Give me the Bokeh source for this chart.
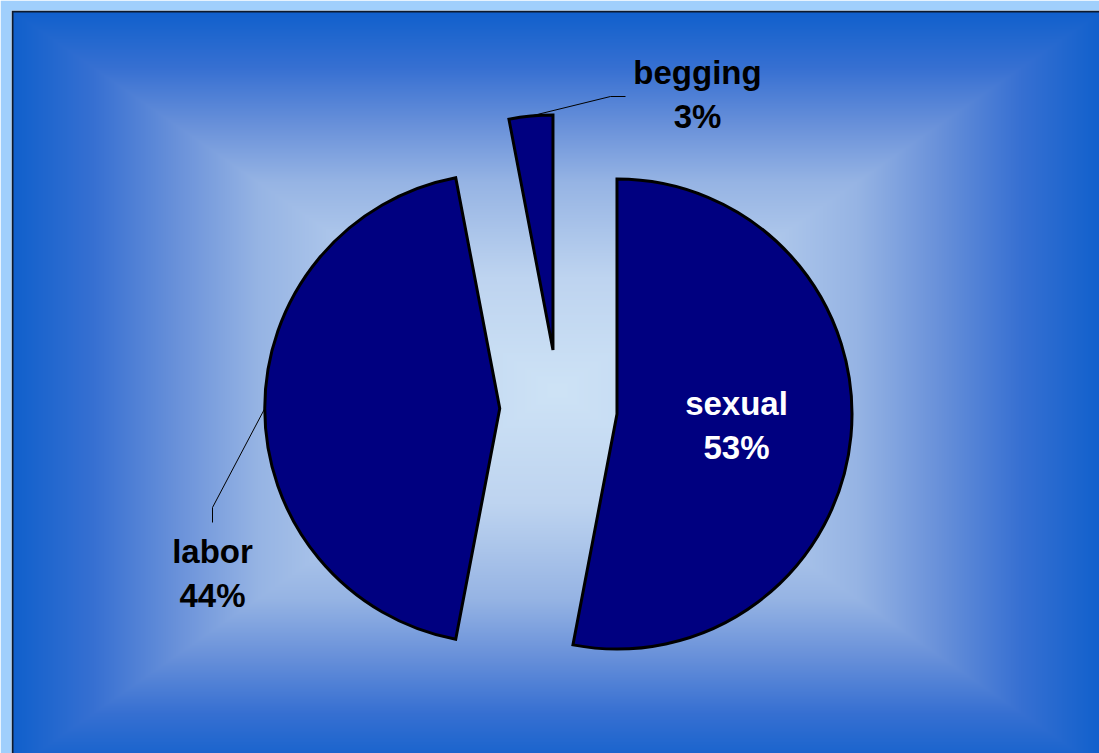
import numpy as np
from bokeh.plotting import figure
from bokeh.models import Range1d, ColumnDataSource
from bokeh.core.properties import value
from bokeh.embed import file_html
from bokeh.resources import INLINE

# ---- data ----
categories = ["sexual", "labor", "begging"]
shares = [53, 44, 3]
label_colors = ["white", "black", "black"]

# ---- layout (screen pixels) ----
W, H = 1099, 753
FL, FT = 11, 10
FW, FH = W - FL, H - FT
OX, OY = FL, FT


def dx(sx):
    return sx - OX


def dy(sy):
    return OY + FH - sy


PIE_SX, PIE_SY = 558, 408
RADIUS = 235
EXPLODE = 0.25 * RADIUS
# label block: (center x, baseline line1, baseline line2)
label_pos = {"sexual": (736, 403, 447), "labor": (212, 551, 595), "begging": (697, 72, 116)}
leader_pts = {"labor": [(212, 507), (212, 522)], "begging": [(610, 96), (625, 96)]}

# ---- background gradient (rectangular, from center) ----
gx0, gx1, gy0, gy1 = 11, 1103, 10, 770
gcx, gcy = (gx0 + gx1) / 2, (gy0 + gy1) / 2
hw, hh = (gx1 - gx0) / 2, (gy1 - gy0) / 2
xs = OX + np.arange(FW) + 0.5
ys = OY + np.arange(FH) + 0.5
X, Y = np.meshgrid(xs, ys)
t = np.clip(np.maximum(np.abs(X - gcx) / hw, np.abs(Y - gcy) / hh), 0, 1)
st = [0, 0.3, 0.55, 0.7, 0.85, 1.0]
Rc = np.interp(t, st, [206, 190, 150, 105, 55, 16])
Gc = np.interp(t, st, [227, 212, 180, 145, 112, 96])
Bc = np.interp(t, st, [246, 240, 228, 218, 210, 204])
img = np.zeros((FH, FW), dtype=np.uint32)
v = img.view(np.uint8).reshape(FH, FW, 4)
v[..., 0] = Rc.astype(np.uint8)
v[..., 1] = Gc.astype(np.uint8)
v[..., 2] = Bc.astype(np.uint8)
v[..., 3] = 255
v[0:2, :, :3] = (14, 26, 44)
v[:, 0:2, :3] = (14, 26, 44)
img = np.ascontiguousarray(img[::-1])

p = figure(width=W, height=H, x_range=Range1d(0, FW), y_range=Range1d(0, FH),
           x_axis_type=None, y_axis_type=None, toolbar_location=None,
           output_backend="svg", min_border_left=FL, min_border_top=FT,
           min_border_right=0, min_border_bottom=0)
p.outline_line_color = None
p.border_fill_color = "#a0cffc"
p.background_fill_color = None
p.image_rgba(image=[img], x=0, y=0, dw=FW, dh=FH)

# ---- pie ----
total = float(sum(shares))
cum = np.cumsum([0] + shares) / total * 360.0
th1, th2 = cum[:-1], cum[1:]
mid = (th1 + th2) / 2
pcx, pcy = dx(PIE_SX), dy(PIE_SY)
cxs = pcx + EXPLODE * np.sin(np.radians(mid))
cys = pcy + EXPLODE * np.cos(np.radians(mid))
src = ColumnDataSource(dict(
    x=cxs, y=cys,
    start=np.pi / 2 - np.radians(th2),
    end=np.pi / 2 - np.radians(th1),
    cat=categories,
))
p.wedge(x="x", y="y", radius=RADIUS, start_angle="start", end_angle="end",
        source=src, fill_color="#000080", line_color="black", line_width=3,
        line_join="miter")

# ---- leader lines ----
for i, c in enumerate(categories):
    if c in leader_pts:
        ax = cxs[i] + RADIUS * np.sin(np.radians(mid[i]))
        ay = cys[i] + RADIUS * np.cos(np.radians(mid[i]))
        pts = leader_pts[c]
        p.line([ax] + [dx(q[0]) for q in pts], [ay] + [dy(q[1]) for q in pts],
               line_color="black", line_width=1)

# ---- labels ----
lx, ly, lt, lc = [], [], [], []
for i, c in enumerate(categories):
    x0, b1, b2 = label_pos[c]
    lx += [dx(x0), dx(x0)]
    ly += [dy(b1), dy(b2)]
    lt += [c, f"{shares[i]}%"]
    lc += [label_colors[i], label_colors[i]]
p.text(x=lx, y=ly, text=lt, text_color=lc, text_font=value("Liberation Sans"),
       text_font_style="bold", text_font_size="33px", text_align="center",
       text_baseline="alphabetic")

open("out.html", "w").write(file_html(p, INLINE))
